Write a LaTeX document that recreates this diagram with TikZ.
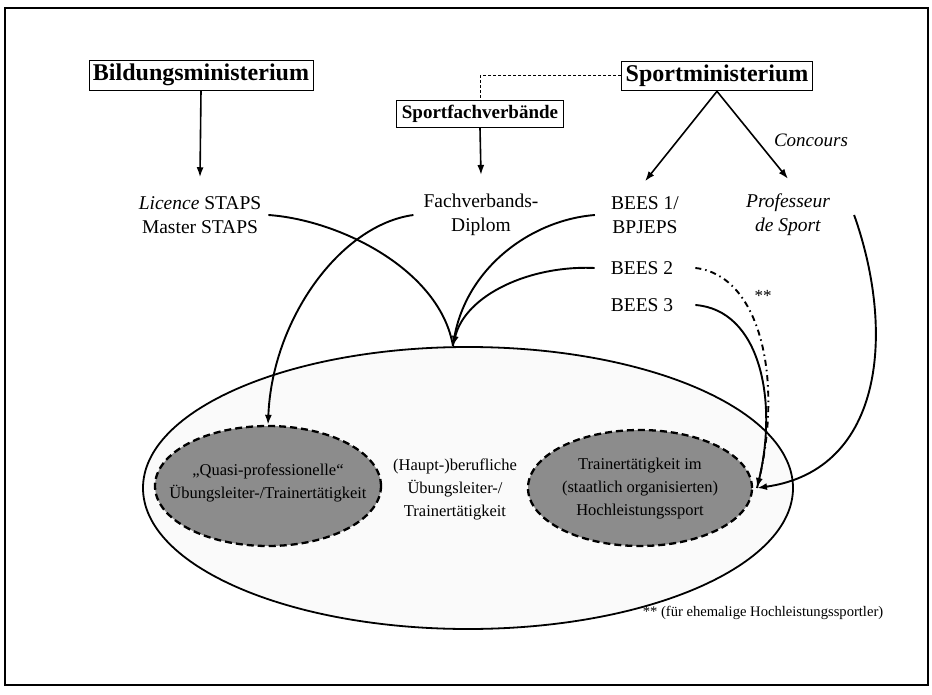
\documentclass[tikz,border=0pt]{standalone}
\usepackage{fontspec}
\setmainfont{Liberation Serif}
\usetikzlibrary{shapes.geometric,arrows.meta}
\begin{document}
\begin{tikzpicture}[x=1pt,y=-1pt,
  ministry/.style={draw,line width=0.9pt,inner sep=4pt,font=\fontsize{24}{28}\selectfont\bfseries},
  fedbox/.style={draw,line width=0.9pt,inner sep=5pt,font=\fontsize{19}{23}\selectfont\bfseries},
  lbl/.style={align=center,inner sep=2pt,font=\fontsize{19.5}{24}\selectfont},
  inner/.style={align=center,inner sep=1pt,font=\fontsize{16.5}{23}\selectfont},
  conn/.style={line width=1.9pt},
  arr/.style={line width=1.6pt,-{Latex[length=10pt,width=7pt]}},
  carr/.style={line width=1.9pt,-{Latex[length=10pt,width=7pt]}},
  greyell/.style={ellipse,inner sep=0pt,fill=black!45,draw=black,line width=2.3pt,dash pattern=on 7pt off 4pt}
]
\useasboundingbox (0,0) rectangle (932,695);
\draw[line width=1.4pt] (5,8) rectangle (928,685);

% main ellipse
\node[ellipse,draw,line width=1.8pt,fill=black!2,inner sep=0pt,minimum width=650,minimum height=282] (big) at (468,488) {};
\node[greyell,minimum width=226,minimum height=120] (quasi) at (268,486) {};
\node[greyell,minimum width=224,minimum height=116] (hoch) at (640,488) {};
\node[inner] (quasitxt) at (268,483) {„Quasi-professionelle“\\Übungsleiter-/Trainertätigkeit};
\node[inner] (haupt) at (455,489) {(Haupt-)berufliche\\Übungsleiter-/\\Trainertätigkeit};
\node[inner] (hochtxt) at (640,489) {Trainertätigkeit im\\(staatlich organisierten)\\Hochleistungssport};

% ministries
\node[ministry] (bm) at (201,75) {Bildungsministerium};
\node[ministry] (sm) at (717,76) {Sportministerium};
\node[fedbox] (fv) at (480,114) {Sportfachverbände};

% qualifications
\node[lbl] (lic) at (200,215) {\textit{Licence} STAPS\\Master STAPS};
\node[lbl] (fd) at (481,215) {Fachverbands-\\Diplom};
\node[lbl] (b1) at (645,215) {BEES 1/\\BPJEPS};
\node[lbl] (prof) at (788,215) {\textit{Professeur}\\\textit{de Sport}};
\node[lbl] (b2) at (642,268) {BEES 2};
\node[lbl] (b3) at (642,305) {BEES 3};
\node[font=\fontsize{19}{23}\selectfont\itshape,inner sep=0pt] (conc) at (811,140) {Concours};
\node[font=\fontsize{17}{20}\selectfont,inner sep=0pt] (stars) at (763,296) {**};
\node[font=\fontsize{14.6}{17}\selectfont,inner sep=0pt] (foot) at (763,613) {** (für ehemalige Hochleistungssportler)};

% top connectors
\draw[line width=1pt,dash pattern=on 3pt off 2pt] (sm.west) -| (fv.north);
\draw[arr] (bm.south) -- ([yshift=17pt]lic.north);
\draw[arr] (fv.south) -- ([yshift=17pt]fd.north);
\draw[arr] (sm.south) -- ([yshift=13pt]b1.north);
\draw[arr] (sm.south) -- ([yshift=13pt]prof.north);

% curves
\coordinate (hub) at (453,346);
\coordinate (hub2) at (757,488);
\draw[conn] ([xshift=5pt]lic.east) .. controls (340,220) and (440,270) .. (hub);
\draw[conn] ([xshift=-14pt]b1.west) .. controls (530,220) and (462,270) .. (hub);
\draw[carr] ([xshift=-14pt]b2.west) .. controls (530,265) and (465,295) .. (hub);
\draw[carr] ([xshift=-8pt]fd.west) .. controls (340,225) and (272,320) .. (quasi.north);
\draw[line width=1.9pt,dash pattern=on 6pt off 4pt on 1.5pt off 4pt] ([xshift=20pt]b2.east) .. controls (760,275) and (785,380) .. (hub2);
\draw[carr] ([xshift=20pt]b3.east) .. controls (760,310) and (778,400) .. (hub2);
\draw[carr] ([xshift=22pt]prof.east) .. controls (895,330) and (885,470) .. (hub2);
\end{tikzpicture}
\end{document}
